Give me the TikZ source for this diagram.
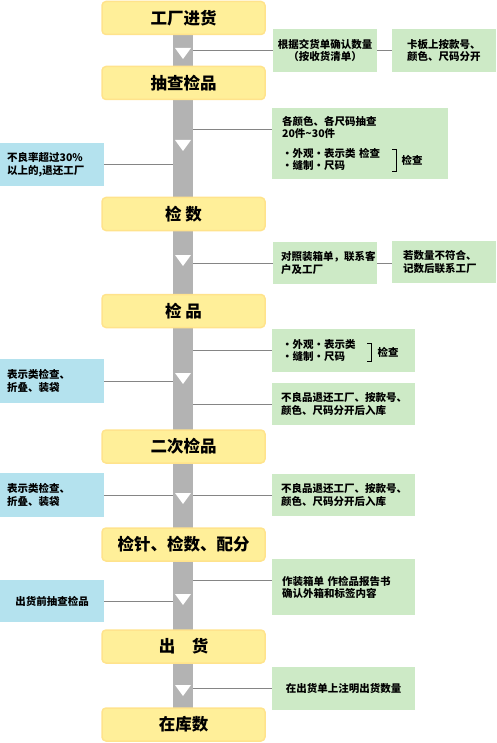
\documentclass[tikz,border=0pt]{standalone}
\usepackage{fontspec}
\setmainfont{Noto Sans CJK SC}
\definecolor{stagefill}{HTML}{FFEF99}
\definecolor{stageline}{HTML}{FFE38C}
\definecolor{notefill}{HTML}{CDEAC6}
\definecolor{sidefill}{HTML}{B4E2EE}
\definecolor{bargray}{HTML}{B3B3B3}
\definecolor{linegray}{HTML}{858585}

\begin{document}
\begin{tikzpicture}[x=1pt, y=-1pt,
  stage/.style={draw=stageline, fill=stagefill, line width=1.5pt, rounded corners=4pt,
    minimum width=163pt, minimum height=33pt, inner sep=0pt,
    font=\fontsize{16.5}{20}\selectfont\bfseries},
  note/.style={fill=notefill, anchor=north west, inner ysep=0pt, align=left,
    font=\fontsize{10.5}{12.5}\selectfont\bfseries},
  side/.style={note, fill=sidefill},
  link/.style={draw=linegray, line width=0.8pt},
  brack/.style={draw=black, line width=0.7pt}]
  \useasboundingbox (0,0) rectangle (496,743);
  \node[fill=bargray, minimum width=20pt, minimum height=706pt, inner sep=0pt] (spine) at (183,371) {};
  \node[stage] (s1) at (183.5,18) {工厂进货};
  \node[stage] (s2) at (183.5,83) {抽查检品};
  \node[stage] (s3) at (183.5,214) {检 数};
  \node[stage] (s4) at (183.5,311) {检 品};
  \node[stage] (s5) at (183.5,446.5) {二次检品};
  \node[stage] (s6) at (183.5,544.5) {检针、检数、配分};
  \node[stage] (s7) at (183.5,646.5) {出\hspace{1em}货};
  \node[stage] (s8) at (183.5,724.5) {在库数};
  \foreach \ty in {48,140,255,373,493,594,685} {
    \fill[white] (175,\ty) -- (191,\ty) -- (183,\ty+11) -- cycle;
  }

  \node[note, text width=96pt, inner xsep=4pt, minimum height=43pt, align=center] (n1) at (273,29)
    {根据交货单确认数量\\（按收货清单）};
  \node[note, text width=74pt, inner xsep=15pt, minimum height=43pt] (n2) at (392,29)
    {卡板上按款号、\\颜色、尺码分开};
  \node[note, text width=156pt, inner xsep=10pt, minimum height=71pt] (n3) at (272,108)
    {各颜色、各尺码抽查\\20件\textasciitilde30件\\[7pt]・外观・表示类 检查\\・缝制・尺码};
  \node[note, text width=88pt, inner xsep=8pt, minimum height=42pt] (n4) at (273,242)
    {对照装箱单，联系客\\户及工厂};
  \node[note, text width=82pt, inner xsep=11pt, minimum height=42pt] (n5) at (392,241)
    {若数量不符合、\\记数后联系工厂};
  \node[note, text width=123pt, inner xsep=10pt, minimum height=43pt] (n6) at (272,329)
    {・外观・表示类\\・缝制・尺码};
  \node[note, text width=125pt, inner xsep=9pt, minimum height=42pt] (n7) at (272,383)
    {不良品退还工厂、按款号、\\颜色、尺码分开后入库};
  \node[note, text width=125pt, inner xsep=9pt, minimum height=42pt] (n8) at (272,474)
    {不良品退还工厂、按款号、\\颜色、尺码分开后入库};
  \node[note, text width=123pt, inner xsep=10pt, minimum height=56pt] (n9) at (272,559)
    {作装箱单 作检品报告书\\确认外箱和标签内容};
  \node[note, text width=133pt, inner xsep=5pt, minimum height=43pt, align=center] (n10) at (272,667)
    {在出货单上注明出货数量};

  \node[side, text width=90pt, inner xsep=7pt, minimum height=43pt] (b1) at (0,143)
    {不良率超过30\%\\以上的,退还工厂};
  \node[side, text width=90pt, inner xsep=7pt, minimum height=44pt] (b2) at (0,359)
    {表示类检查、\\折叠、装袋};
  \node[side, text width=90pt, inner xsep=7pt, minimum height=44pt] (b3) at (0,473)
    {表示类检查、\\折叠、装袋};
  \node[side, text width=90pt, inner xsep=7pt, minimum height=42pt, align=center] (b4) at (0,580)
    {出货前抽查检品};

  \draw[brack] (392,149) -- (396,149) -- (396,171) -- (392,171);
  \node[font=\fontsize{10.5}{12.5}\selectfont\bfseries, inner sep=0pt] (c3) at (412,160) {检查};
  \draw[brack] (367,343) -- (371,343) -- (371,361) -- (367,361);
  \node[font=\fontsize{10.5}{12.5}\selectfont\bfseries, inner sep=0pt] (c6) at (388,352) {检查};

  \coordinate (h3) at (0,129);
  \coordinate (h9) at (0,580);
  \draw[link] (spine.east |- n1.west) -- (n1.west);
  \draw[link] (n1.east) -- (n2.west);
  \draw[link] (spine.east |- h3) -- (n3.west |- h3);
  \draw[link] (b1.east) -- (spine.west |- b1.east);
  \draw[link] (spine.east |- n4.west) -- (n4.west);
  \draw[link] (n4.east) -- (n5.west |- n4.east);
  \draw[link] (spine.east |- n6.west) -- (n6.west);
  \draw[link] (spine.east |- n7.west) -- (n7.west);
  \draw[link] (b2.east) -- (spine.west |- b2.east);
  \draw[link] (spine.east |- n8.west) -- (n8.west);
  \draw[link] (b3.east) -- (spine.west |- b3.east);
  \draw[link] (spine.east |- h9) -- (n9.west |- h9);
  \draw[link] (b4.east) -- (spine.west |- b4.east);
  \draw[link] (spine.east |- n10.west) -- (n10.west);
\end{tikzpicture}
\end{document}
